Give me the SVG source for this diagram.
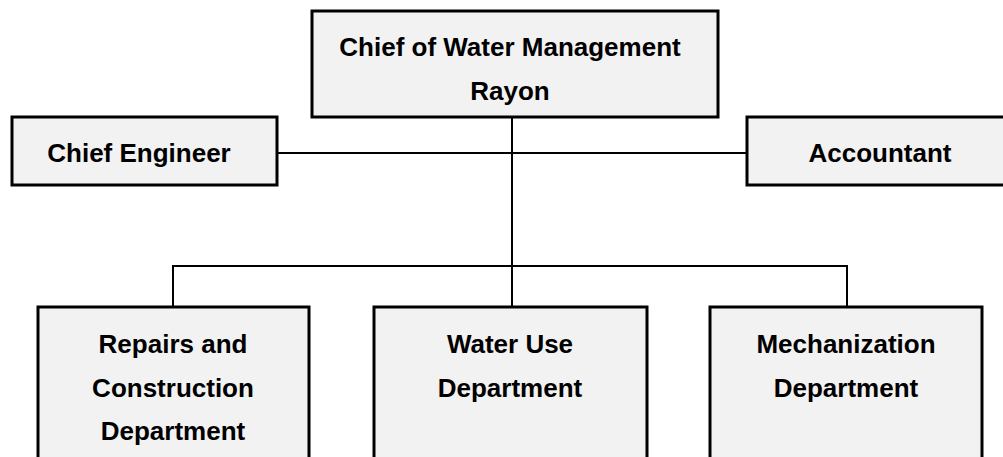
<svg xmlns="http://www.w3.org/2000/svg" width="1003" height="457" viewBox="0 0 1003 457">
  <style>
    .box { fill: #f2f2f2; stroke: #000; stroke-width: 3; }
    .lbl { font-family: "Liberation Sans", Arial, sans-serif; font-weight: bold; font-size: 26px; fill: #000; text-anchor: middle; }
    .wire { fill: none; stroke: #000; stroke-width: 2; }
  </style>
  <rect width="1003" height="457" fill="#fff"/>

  <!-- connectors -->
  <g id="connectors">
    <line class="wire" x1="512" y1="117" x2="512" y2="307"/>
    <line class="wire" x1="277" y1="153" x2="747" y2="153"/>
    <polyline class="wire" points="173,307 173,266 847,266 847,307"/>
  </g>

  <g id="chief">
    <rect class="box" x="312" y="11" width="406" height="106"/>
    <text class="lbl" x="510" y="56">Chief of Water Management</text>
    <text class="lbl" x="510" y="100">Rayon</text>
  </g>

  <g id="chief-engineer">
    <rect class="box" x="12" y="117" width="265" height="68"/>
    <text class="lbl" x="139" y="162">Chief Engineer</text>
  </g>

  <g id="accountant">
    <rect class="box" x="747" y="117" width="270" height="68"/>
    <text class="lbl" x="880" y="162">Accountant</text>
  </g>

  <g id="repairs">
    <rect class="box" x="38" y="307" width="271" height="170"/>
    <text class="lbl" x="173" y="353">Repairs and</text>
    <text class="lbl" x="173" y="397">Construction</text>
    <text class="lbl" x="173" y="440">Department</text>
  </g>

  <g id="water-use">
    <rect class="box" x="374" y="307" width="273" height="170"/>
    <text class="lbl" x="510" y="353">Water Use</text>
    <text class="lbl" x="510" y="397">Department</text>
  </g>

  <g id="mechanization">
    <rect class="box" x="710" y="307" width="272" height="170"/>
    <text class="lbl" x="846" y="353">Mechanization</text>
    <text class="lbl" x="846" y="397">Department</text>
  </g>
</svg>
